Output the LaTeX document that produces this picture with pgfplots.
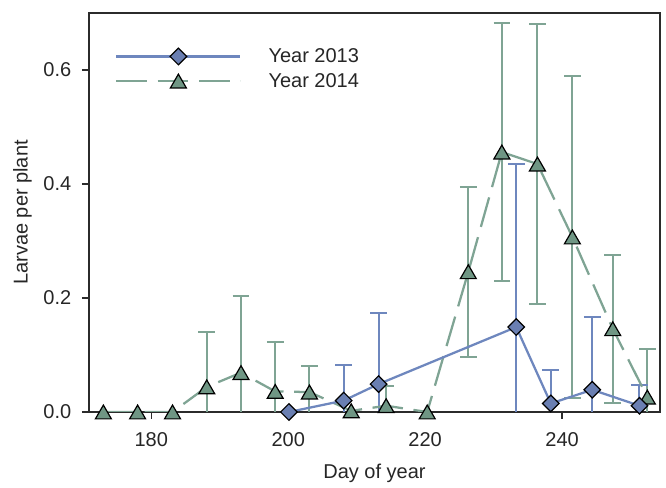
\documentclass[border=0pt]{standalone}
\usepackage{fontspec}
\setmainfont{Liberation Sans}
\usepackage{pgfplots}
\usepackage{pgfplotstable}
\pgfplotsset{compat=1.18}
\definecolor{bl}{HTML}{6E87BE}
\definecolor{blf}{HTML}{6A7FB2}
\definecolor{gr}{HTML}{7FA494}
\definecolor{grf}{HTML}{6F9684}
\definecolor{axc}{HTML}{2B2B2B}

\pgfplotstableread{
x y e
200.1 0.000 0
208.1 0.020 0.062
213.2 0.049 0.124
233.3 0.149 0.286
238.35 0.015 0.059
244.4 0.039 0.127
251.3 0.011 0.036
}\yeartwo

\pgfplotstableread{
x y e
173.0 0.000 0
178.0 0.000 0
183.1 0.000 0
188.1 0.044 0.097
193.1 0.069 0.135
198.1 0.036 0.086
203.1 0.035 0.046
209.2 0.002 0
214.3 0.011 0.035
220.3 0.000 0
226.3 0.246 0.149
231.2 0.456 0.226
236.4 0.435 0.246
241.5 0.307 0.282
247.4 0.146 0.130
252.45 0.026 0.084
}\yearfour

\begin{document}
\begin{tikzpicture}
\begin{axis}[
  name=ax,
  scale only axis, width=428.25pt, height=299.25pt,
  xmin=170.9, xmax=254.3, ymin=0, ymax=0.70,
  xtick={180,200,220,240}, ytick={0,0.2,0.4,0.6},
  yticklabel style={xshift=-4.5pt, /pgf/number format/.cd, fixed, fixed zerofill, precision=1},
  /pgf/number format/assume math mode=true,
  tick align=outside, major tick length=5.25pt, tick pos=left,
  axis line style={axc, line width=1pt},
  tick style={axc, line width=1pt},
  every tick label/.append style={font=\fontsize{15}{17}\selectfont, text=black!85},
  xticklabel style={yshift=-6.5pt},
  label style={font=\fontsize{15}{17}\selectfont, text=black!85},
  xlabel style={yshift=-6.5pt},
  ylabel style={yshift=2pt},
  xlabel={Day of year}, ylabel={Larvae per plant},
  reverse legend,
  legend style={draw=none, fill=none, at={(0.0455,0.9125)}, anchor=north west,
    inner sep=0pt, row sep=6.25pt, font=\fontsize{15}{17}\selectfont,
    nodes={inner sep=0pt, text=black!85},
    /tikz/every odd column/.append style={column sep=20.25pt}},
  legend image code/.code={\draw[mark repeat=2, mark phase=2, #1] plot coordinates {(0pt,0pt) (46.5pt,0pt) (93pt,0pt)};},
]
% error bars
\addplot[forget plot, draw=none, mark=none,
  error bars/.cd, y dir=both, y explicit,
  error bar style={gr, line width=1.5pt},
  error mark options={rotate=90, gr, line width=1.5pt, mark size=6.25pt}]
  table[x=x, y=y, y error=e, restrict expr to domain={\thisrow{e}}{0.001:1}] {\yearfour};
\addplot[forget plot, draw=none, mark=none,
  error bars/.cd, y dir=both, y explicit,
  error bar style={bl, line width=1.5pt},
  error mark options={rotate=90, bl, line width=1.5pt, mark size=6.25pt}]
  table[x=x, y=y, y error=e, restrict expr to domain={\thisrow{e}}{0.001:1}] {\yeartwo};
% lines
\addplot[gr, line width=1.7pt, dash pattern=on 23pt off 8pt,
  mark=triangle*, mark size=6.9pt,
  mark options={solid, fill=grf, draw=black, line width=0.9pt, yshift=-1.7pt}]
  table[x=x, y=y] {\yearfour};
\addlegendentry{Year 2014}
\addplot[bl, line width=1.7pt,
  mark=square*, mark size=4.4pt,
  mark options={solid, rotate=45, fill=blf, draw=black, line width=0.9pt}]
  table[x=x, y=y] {\yeartwo};
\addlegendentry{Year 2013}
\end{axis}
\path (ax.south west) ++(-66.75pt,-51.75pt) rectangle ([xshift=4.5pt,yshift=9.75pt]ax.north east);
\end{tikzpicture}
\end{document}
